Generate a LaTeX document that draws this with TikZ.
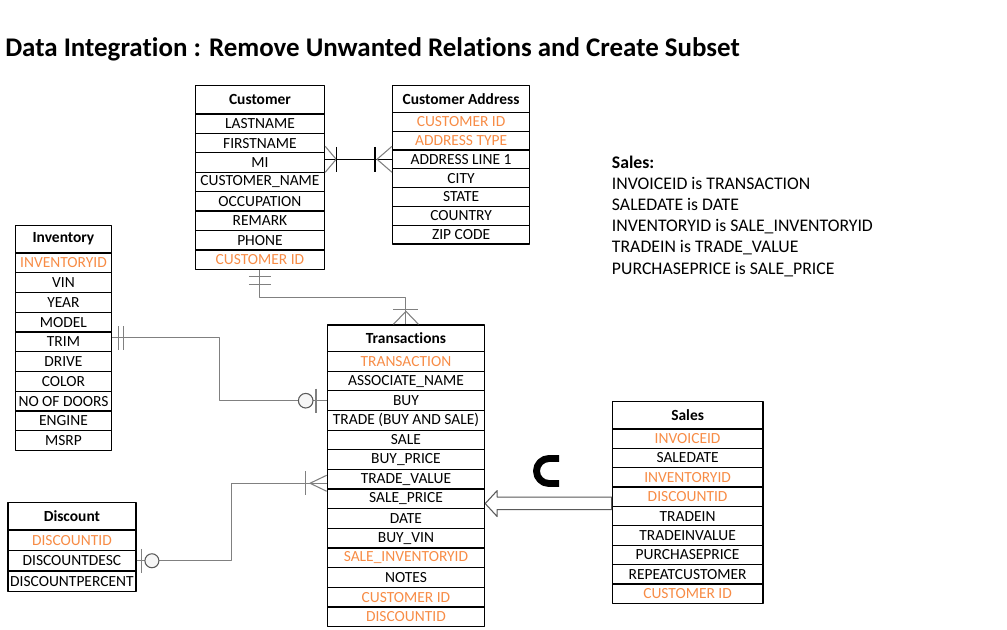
\documentclass[tikz,border=0pt]{standalone}
\usepackage{fontspec}
\setmainfont{Carlito}[Ligatures=NoCommon]
\usetikzlibrary{calc}
\definecolor{keyorange}{RGB}{247,140,70}
\definecolor{linkgray}{RGB}{128,128,128}
\begin{document}
\begin{tikzpicture}[x=0.75pt,y=-0.75pt,line join=round,
	cell/.style={draw,line width=0.9pt,inner sep=0pt,anchor=north west,font=\fontsize{11.6}{13}\selectfont},
	cellhead/.style={cell,font=\fontsize{11.6}{13}\selectfont\bfseries},
	link/.style={draw=linkgray,line width=0.8pt},
	ring/.style={draw=black!65,line width=0.8pt,fill=gray!7}]
	\def\erdtable#1#2#3#4#5#6#7#8{%
		\node[cellhead,minimum width=#4*0.75pt,minimum height=#5*0.75pt] (#1-h) at (#2,#3) {#7};
		\foreach \txt/\col [count=\i] in {#8}
		\node[cell,text=\col,minimum width=#4*0.75pt,minimum height=#6*0.75pt] (#1-\i) at (#2,{#3+#5+(\i-1)*#6}) {\txt};}
	\useasboundingbox (0,0) rectangle (1007,629);
	\node[anchor=base west,inner sep=0pt,font=\fontsize{20.2}{24}\selectfont\bfseries] (title) at (5,56) {Data Integration : Remove Unwanted Relations and Create Subset};
	\erdtable{cust}{194.7}{85}{129.3}{28.3}{19.43}{Customer}{LASTNAME/black,FIRSTNAME/black,MI/black,CUSTOMER\_NAME/black,OCCUPATION/black,REMARK/black,PHONE/black,CUSTOMER ID/keyorange}
	\erdtable{addr}{392}{84.7}{137}{27}{18.8}{Customer Address}{CUSTOMER ID/keyorange,ADDRESS TYPE/keyorange,ADDRESS LINE 1/black,CITY/black,STATE/black,COUNTRY/black,ZIP CODE/black}
	\erdtable{inv}{14.7}{224.7}{96.3}{27.6}{19.77}{Inventory}{INVENTORYID/keyorange,VIN/black,YEAR/black,MODEL/black,TRIM/black,DRIVE/black,COLOR/black,NO OF DOORS/black,ENGINE/black,MSRP/black}
	\erdtable{trn}{326.7}{324.3}{157.3}{26.7}{19.64}{Transactions}{TRANSACTION/keyorange,ASSOCIATE\_NAME/black,BUY/black,TRADE (BUY AND SALE)/black,SALE/black,BUY\_PRICE/black,TRADE\_VALUE/black,SALE\_PRICE/black,DATE/black,BUY\_VIN/black,SALE\_INVENTORYID/keyorange,NOTES/black,CUSTOMER ID/keyorange,DISCOUNTID/keyorange}
	\erdtable{sales}{611.7}{401}{150.6}{27.3}{19.38}{Sales}{INVOICEID/keyorange,SALEDATE/black,INVENTORYID/keyorange,DISCOUNTID/keyorange,TRADEIN/black,TRADEINVALUE/black,PURCHASEPRICE/black,REPEATCUSTOMER/black,CUSTOMER ID/keyorange}
	\erdtable{disc}{7.3}{502}{128}{27.3}{20.57}{Discount}{DISCOUNTID/keyorange,DISCOUNTDESC/black,DISCOUNTPERCENT/black}
	\node[anchor=north west,align=left,inner sep=0pt,font=\fontsize{13.3}{15.8}\selectfont] (note) at (611.7,156) {\textbf{Sales:}\\INVOICEID is TRANSACTION\\SALEDATE is DATE\\INVENTORYID is SALE\_INVENTORYID\\TRADEIN is TRADE\_VALUE\\PURCHASEPRICE is SALE\_PRICE};
	\coordinate (ca) at (addr-3.west -| cust-3.east);
	\draw[line width=0.8pt] (ca) -- (addr-3.west);
	\draw[link] (ca) ++(0,-13) -- ++(11,13) -- ++(-11,13);
	\draw[line width=0.8pt] (ca) ++(11.5,-12.5) -- ++(0,25);
	\draw[line width=0.8pt] (addr-3.west) ++(-17,-12.5) -- ++(0,25);
	\draw[link] (addr-3.west) ++(0,-13) -- ++(-15,13) -- ++(15,13);
	\draw[link] (cust-8.south) -- ++(0,28) -| (trn-h.north);
	\draw[link] (cust-8.south) ++(-11,6.5) -- ++(22,0) ++(-22,8.5) -- ++(22,0);
	\draw[link] (trn-h.north) ++(-12.5,0) -- ++(12.5,-13) -- ++(12.5,13);
	\draw[link] (trn-h.north) ++(-12.5,-14.5) -- ++(25,0);
	\draw[link] ([yshift=3pt]inv-5.east) -- ++(107.3,0) |- (trn-3.west);
	\draw[link] ([yshift=3pt]inv-5.east) ++(6.3,-11.7) -- ++(0,23.4) ++(4.7,-23.4) -- ++(0,23.4);
	\draw[link] (trn-3.west) ++(-10.7,-12) -- ++(0,24);
	\draw[ring] (trn-3.west) ++(-21,0) circle[radius=7.3];
	\draw[link] (disc-2.east) -- ++(94.7,0) |- ([yshift=-3pt]trn-7.west);
	\draw[link] (disc-2.east) ++(5,-11.8) -- ++(0,23.6);
	\draw[ring] (disc-2.east) ++(15.4,0) circle[radius=7];
	\draw[link] ([yshift=-3pt]trn-7.west) ++(-21,-12) -- ++(0,24);
	\draw[link] ([yshift=-3pt]trn-7.west) ++(0,-8) -- ++(-16.7,8) -- ++(16.7,8);
	\coordinate (tip) at ([yshift=-3.5pt]trn-8.east);
	\draw[draw=gray!70!black,fill=white,line width=0.8pt] (tip) -- ++(12,-13) -- ++(0,6.5) -- ($(tip -| sales-4.west)+(0,-6.5)$) -- ++(0,12.5) -- ($(tip)+(12,6)$) -- ++(0,7) -- cycle;
	\draw[line width=5.2pt] (559,458.5) -- (549,458.5) arc[start angle=270,end angle=90,radius=12.5] -- (559,483.5);
\end{tikzpicture}
\end{document}
